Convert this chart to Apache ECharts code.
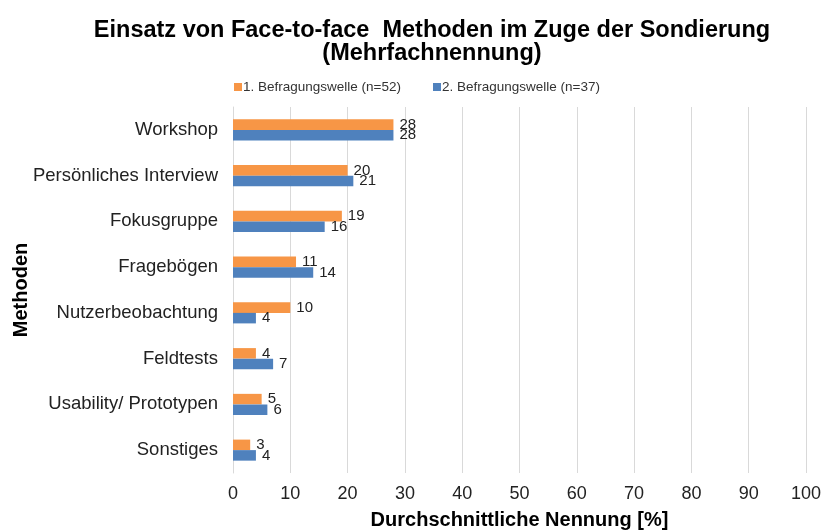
<!DOCTYPE html>
<html><head><meta charset="utf-8">
<script src="https://cdn.jsdelivr.net/npm/echarts@6/dist/echarts.min.js"></script>
<style>html,body{margin:0;padding:0;background:#fff}#c{width:822px;height:530px}</style>
</head><body><div id="c"></div>
<script>
const categories = ['Workshop','Persönliches Interview','Fokusgruppe','Fragebögen','Nutzerbeobachtung','Feldtests','Usability/ Prototypen','Sonstiges'];
const welle1 = [28,20,19,11,10,4,5,3];
const welle2 = [28,21,16,14,4,7,6,4];
const seriesNames = ['1. Befragungswelle (n=52)','2. Befragungswelle (n=37)'];
const xTicks = [0,10,20,30,40,50,60,70,80,90,100];

const font = '"Liberation Sans", Arial, sans-serif';
const chart = echarts.init(document.getElementById('c'));
const lbl = {show:true, position:'right', distance:6, color:'#222', fontSize:15, fontFamily:font};
chart.setOption({
  animation:false,
  textStyle:{fontFamily:font},
  title:{text:'Einsatz von Face-to-face  Methoden im Zuge der Sondierung\n(Mehrfachnennung)',
    left:427, textAlign:'center', top:14,
    textStyle:{fontSize:23.5, fontWeight:'bold', color:'#000', lineHeight:23, fontFamily:font}},
  legend:{top:75, left:229, itemWidth:8, itemHeight:8, itemGap:32, icon:'rect',
    textStyle:{fontSize:13.5, color:'#333', fontFamily:font, padding:[0,0,0,-4]}},
  grid:{left:233, right:16, top:107, bottom:57, outerBoundsMode:'none', containLabel:false},
  xAxis:{type:'value', min:xTicks[0], max:xTicks[xTicks.length-1], interval:10,
    name:'Durchschnittliche Nennung [%]', nameLocation:'middle', nameGap:37, nameMoveOverlap:false,
    nameTextStyle:{fontSize:20, fontWeight:'bold', color:'#000', fontFamily:font},
    axisLine:{show:false}, axisTick:{show:false},
    axisLabel:{fontSize:18, color:'#222', margin:12, fontFamily:font},
    splitLine:{lineStyle:{color:'#d9d9d9'}}},
  yAxis:{type:'category', data:categories, inverse:true,
    name:'Methoden', nameLocation:'middle', nameRotate:90, nameGap:212, nameMoveOverlap:false,
    nameTextStyle:{fontSize:20, fontWeight:'bold', color:'#000', fontFamily:font, verticalAlign:'middle'},
    axisLine:{lineStyle:{color:'#d9d9d9'}}, axisTick:{show:false},
    axisLabel:{fontSize:18.5, color:'#222', margin:15, fontFamily:font}},
  series:[
    {name:seriesNames[0], type:'bar', data:welle1, barGap:'0%', barCategoryGap:'54%',
      itemStyle:{color:'#F79646'}, label:lbl},
    {name:seriesNames[1], type:'bar', data:welle2, barGap:'0%', barCategoryGap:'54%',
      itemStyle:{color:'#4F81BD'}, label:lbl}
  ]
});
</script></body></html>
